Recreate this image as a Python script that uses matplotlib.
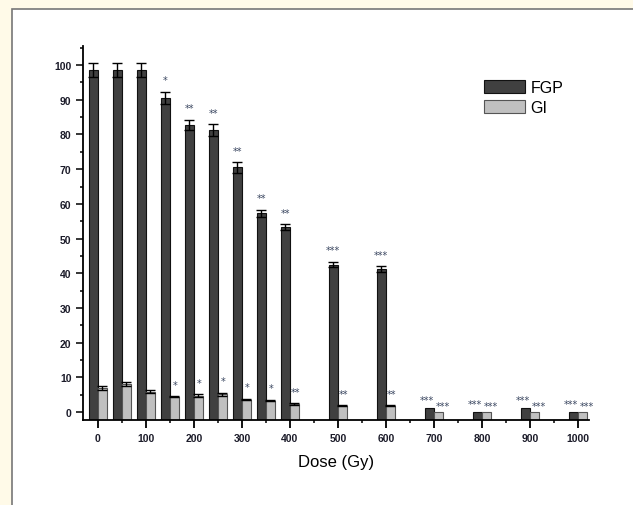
import matplotlib
matplotlib.use("Agg")
import matplotlib.pyplot as plt
from matplotlib.patches import Rectangle
from matplotlib.ticker import MultipleLocator

plt.rcParams["font.family"] = ["Liberation Sans", "DejaVu Sans"]

# data
dose = [0, 50, 100, 150, 200, 250, 300, 350, 400, 500, 600, 700, 800, 900, 1000]
fgp = [98.5, 98.5, 98.5, 90.5, 82.8, 81.2, 70.5, 57.3, 53.3, 42.5, 41.2, 1.2, 0.0, 1.2, 0.0]
fgp_err = [2.0, 2.0, 2.0, 1.8, 1.5, 1.7, 1.5, 1.0, 0.9, 0.8, 0.8, 0, 0, 0, 0]
gi = [7.0, 8.1, 5.9, 4.4, 4.7, 5.1, 3.6, 3.3, 2.3, 1.8, 1.8, 0.0, 0.0, 0.0, 0.0]
gi_err = [0.6, 0.5, 0.5, 0.2, 0.5, 0.5, 0.2, 0.2, 0.2, 0.1, 0.1, 0, 0, 0, 0]
fgp_sig = ["", "", "", "*", "**", "**", "**", "**", "**", "***", "***", "***", "***", "***", "***"]
gi_sig = ["", "", "", "*", "*", "*", "*", "*", "**", "**", "**", "***", "***", "***", "***"]

W, H = 633, 506
fig = plt.figure(figsize=(W / 100, H / 100), dpi=100, facecolor="#fffae8")
# white panel with grey frame, behind the axes
fig.patches.append(Rectangle((12 / W, -0.1), 1.2, 1 - 10 / H + 0.1, transform=fig.transFigure,
                             facecolor="white", edgecolor="#777777", linewidth=1.2, zorder=-10))

ax = fig.add_axes([83 / W, 1 - 421 / H, (589 - 83) / W, (421 - 47) / H])
ax.set_zorder(5)
ax.patch.set_alpha(0)
ymin, ymax = -2.3, 105.5
ax.set_ylim(ymin, ymax)
ax.set_xlim(-31, 1023)

bw = 19
xd = [d - bw / 2 for d in dose]
xg = [d + bw / 2 for d in dose]
ax.bar(xd, [v - ymin for v in fgp], bw, bottom=ymin, color="#404040", edgecolor="#111111",
       linewidth=0.8, label="FGP", zorder=2)
ax.bar(xg, [v - ymin for v in gi], bw, bottom=ymin, color="#c0c0c0", edgecolor="#555555",
       linewidth=0.8, label="GI", zorder=2)

for x, v, e in zip(xd, fgp, fgp_err):
    if e > 0:
        ax.errorbar(x, v, yerr=e, fmt="none", ecolor="black", elinewidth=1, capsize=3.5,
                    capthick=1, zorder=3)
for x, v, e in zip(xg, gi, gi_err):
    if e > 0:
        ax.errorbar(x, v, yerr=e, fmt="none", ecolor="black", elinewidth=1, capsize=3.5,
                    capthick=1, zorder=3)

star_col = "#3a4660"
for x, v, e, s in zip(xd, fgp, fgp_err, fgp_sig):
    if s:
        ax.text(x - (4.5 if e == 0 else 0), v + e + (3.3 if e > 0 else 2.2), s,
                ha="center", va="center", fontsize=7, color=star_col, family="DejaVu Sans")
for x, v, e, s in zip(xg, gi, gi_err, gi_sig):
    if s:
        ax.text(x + (9 if e == 0 else 2), v + e + (3.3 if e > 0 else 1.7), s,
                ha="center", va="center", fontsize=7, color=star_col, family="DejaVu Sans")

for side in ["top", "right"]:
    ax.spines[side].set_visible(False)
for side in ["left", "bottom"]:
    ax.spines[side].set_linewidth(1.3)

ax.yaxis.set_major_locator(MultipleLocator(10))
ax.yaxis.set_minor_locator(MultipleLocator(5))
ax.set_xticks(range(0, 1001, 100))
ax.xaxis.set_minor_locator(MultipleLocator(50))
ax.set_yticks(range(0, 101, 10))
ax.tick_params(axis="y", which="major", direction="out", length=4.8, width=1.1, pad=3.5,
               labelsize=7.5)
ax.tick_params(axis="y", which="minor", direction="out", length=2.4, width=1.1)
ax.tick_params(axis="x", which="major", direction="out", length=5.5, width=1.3, pad=4,
               labelsize=7.5)
ax.tick_params(axis="x", which="minor", direction="out", length=2.5, width=1.1)
for lab in ax.get_xticklabels() + ax.get_yticklabels():
    lab.set_fontweight("bold")
    lab.set_color("#1c1c2a")

ax.set_xlabel("Dose (Gy)", fontsize=12, labelpad=8)

leg = ax.legend(loc="upper left", bbox_to_anchor=(484 / W, 1 - 81 / H),
                bbox_transform=fig.transFigure, frameon=False, fontsize=11.5,
                handlelength=2.55, handleheight=0.85, handletextpad=0.35,
                labelspacing=0.3, borderpad=0, borderaxespad=0)

fig.savefig("out.png", dpi=100, facecolor=fig.get_facecolor())
